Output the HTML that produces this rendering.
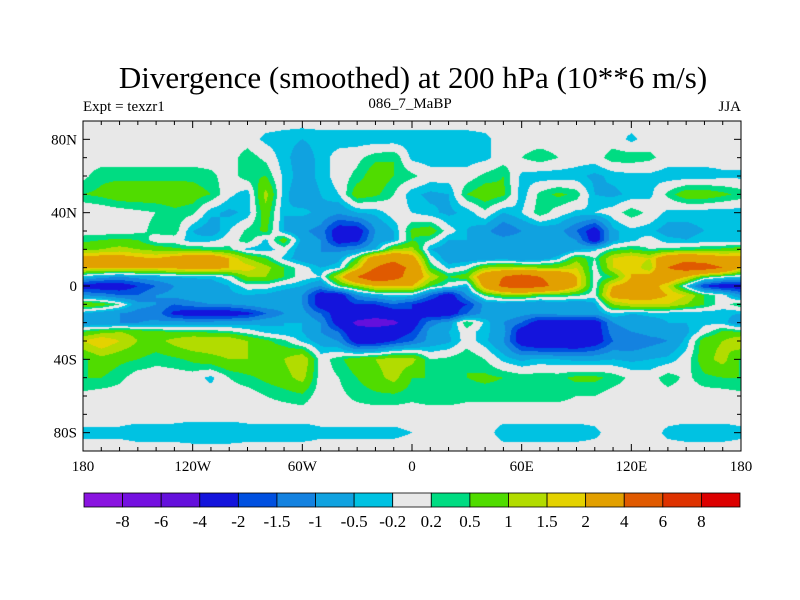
<!DOCTYPE html>
<html><head><meta charset="utf-8"><style>
body{margin:0;background:#fff;width:800px;height:600px;overflow:hidden;position:relative;font-family:"Liberation Serif",serif}
.t{position:absolute;white-space:nowrap;color:#000}
</style></head><body>
<div class="t" style="left:0;width:826px;text-align:center;top:60px;font-size:31px">Divergence (smoothed) at 200 hPa (10**6 m/s)</div>
<div class="t" style="left:83px;top:99px;font-size:15px">Expt = texzr1</div>
<div class="t" style="left:310px;width:200px;text-align:center;top:96px;font-size:15px">086_7_MaBP</div>
<div class="t" style="left:700px;width:41px;text-align:right;top:99px;font-size:15px">JJA</div>
<canvas id="map" width="658" height="330" style="position:absolute;left:83px;top:121px"></canvas>
<svg id="ax" width="800" height="600" style="position:absolute;left:0;top:0"></svg>
<script>
const lons=[-180,-170,-160,-150,-140,-130,-120,-110,-100,-90,-80,-70,-60,-50,-40,-30,-20,-10,0,10,20,30,40,50,60,70,80,90,100,110,120,130,140,150,160,170,180];
const lats=[90,80,70,60,50,40,30,25,20,15,10,5,0,-5,-10,-15,-20,-25,-30,-40,-50,-60,-70,-80,-90];
const row90=[0,0,0,0,0,0,0,0,0,0,0,0,0,0,0,0,0,0,0,0,0,0,0,0,0,0,0,0,0,0,0,0,0,0,0,0,0];
const row80=[0,0,0,0,0,0,0,0,0,0,-0.3,-0.4,-0.5,-0.4,-0.4,-0.4,-0.4,-0.4,-0.4,-0.4,-0.4,-0.4,-0.3,0,0,0,0,0,0,0,-0.3,0,0,0,0,0,0];
const row70=[0,0,0,0,0,0,0,0,0,0.4,0.1,-0.4,-0.7,-0.4,0,0.1,0.4,0.5,-0.3,-0.4,-0.4,-0.4,-0.3,0,0.2,0.4,0.2,0,0,0.4,0.4,0.3,0,0,0,0,0];
const row60=[0.1,0.4,0.4,0.4,0.4,0.4,0.4,0.3,0,0.4,0.5,-0.3,-0.7,-0.4,0,0.3,0.8,0.5,0.3,0,0,0,0.3,0.5,-0.3,-0.4,-0.4,-0.4,-0.6,-0.4,-0.3,-0.3,-0.4,-0.4,-0.4,-0.3,-0.3];
const row50=[0.5,0.6,0.8,0.8,0.8,0.8,0.7,0.5,-0.1,-0.4,1.2,-0.4,-0.8,-0.5,-0.2,0.8,0.6,0.2,-0.4,-0.6,-0.5,0.5,0.8,0.6,-0.4,0.3,0.6,0.4,-0.5,-0.6,-0.4,-0.3,0.3,0.8,0.8,0.6,0.4];
const row40=[-0.2,-0.1,0,0.1,0.2,0.4,0.3,-0.4,-0.6,-0.4,0.8,-0.5,-0.4,-0.6,-0.9,-0.5,-0.4,0,-0.2,-0.4,-0.6,-0.4,0.1,-0.5,-0.2,0.4,0,-0.3,-0.2,0,0.4,0.1,-0.3,-0.4,-0.4,-0.4,-0.4];
const row30=[0,0,0,0.1,0.3,0.4,-0.5,-0.8,-0.2,0.3,0.6,-0.5,-0.9,-1.2,-2.5,-2.5,-1,-0.5,0.6,0.8,0,-0.5,-0.8,-1.5,-1,-0.8,-0.8,-1.5,-2.5,-0.6,-0.3,-0.4,-0.7,-0.6,-0.5,-0.4,-0.3];
const row25=[0.4,0.5,0.6,0.5,0,0,-0.4,-0.3,0,0.4,-0.3,0.8,-0.7,-1,-2.5,-2.2,-0.8,-0.5,0.5,0.2,-0.5,-0.5,-0.6,-0.7,-0.6,-0.5,-0.6,-1,-2.5,-0.6,-0.3,0,-0.4,-0.5,-0.4,-0.4,-0.4];
const row20=[0.8,1,1.2,1,0.8,0.6,0.5,0.4,0.3,-0.3,-0.4,0,-0.8,-1,-1.2,-1,-0.5,1,1.2,-0.5,-0.8,-1,-0.8,-0.6,-0.8,-1,-1,-0.6,-0.3,0.3,0.5,0.2,0.3,0.4,0.5,0.6,0.8];
const row15=[2.5,2.5,2.5,2.2,2,2.5,3,3,2,1,0.5,-0.3,-0.8,-1,-0.6,0.5,3,3.5,2.5,0,-0.8,-0.8,-0.8,-0.6,-1,-0.8,-0.3,0.8,0.2,1.5,2,1.5,3,3.5,3,2.5,2.5];
const row10=[2,2,2,2,2,2.2,2.5,2.5,2,1.8,1.2,0.5,0,-0.5,-0.3,1.5,4,5,3.5,0.5,-0.3,0,1,1.2,1.2,1,1,1.5,0,1.5,2,1,4,5,5,4,2];
const row5=[-0.3,-0.8,-1,-0.8,-0.6,-0.5,-0.4,-0.4,0,1,1,0.5,0,-0.2,1.5,4,6,5,3,1.5,0.5,0.8,3,4,5,4,3.5,2,0,0.5,2,2.5,3,2,0.5,0,-0.3];
const row0=[-2.5,-2.5,-2.5,-2,-1.5,-1,-1,-0.8,-0.5,0,0,-0.3,-0.5,-1,0.3,1,2,2,2,0.5,0,-0.5,2.5,4.5,5,4.5,3.5,2,0,2,2.5,2.5,1.5,-0.2,-2,-2.5,-2.5];
const rowS5=[-1,-1.2,-1.5,-1.5,-1,-0.8,-0.6,-0.6,-0.6,-0.5,-0.6,-0.8,-1,-2.5,-2.5,-1,-0.5,-0.2,-0.3,-1.5,-2.5,-1,0.3,0.8,1,0.5,0.5,0.3,0,2.5,2.5,2.5,2,1.5,0.5,0,-1];
const rowS10=[1,0.8,0.2,-0.8,-1,-1.5,-1.2,-1,-1,-0.8,-0.6,-0.7,-1,-2.5,-2.5,-2,-2,-1.5,-2,-2.5,-2.5,-2,-0.8,-0.8,-1,-1,-0.8,-1,-0.6,1,1.5,1.5,1.5,1,0.5,0,0.5];
const rowS15=[-0.5,-0.8,-1,-1.2,-1.2,-2.2,-2.5,-2.5,-2.5,-2.2,-1.5,-1,-0.8,-1.5,-2.5,-2.5,-3,-2.5,-2,-2.5,-2.5,-1.5,-0.8,-0.6,-0.8,-1,-0.8,-0.8,-0.8,-0.2,-0.5,-0.4,-0.4,-0.5,-0.4,-0.4,-0.5];
const rowS20=[-1,-1,-1,-1,-0.9,-0.8,-0.8,-0.8,-0.7,-0.7,-0.6,-0.5,-0.5,-1,-2.5,-4.5,-5,-4.5,-2.5,-1.2,-0.8,0.5,-0.3,-1,-1.5,-2.5,-2.5,-2.5,-2.5,-1,-0.8,-0.7,-0.5,-0.5,-0.3,-0.3,-1];
const rowS25=[0.5,0.8,1,0.8,0.6,0.5,0.5,0.4,0.3,0,-0.3,-0.5,-0.5,-1,-1.5,-3,-3,-2.5,-2,-0.8,-0.5,0,-0.4,-0.8,-2.5,-3,-3,-3,-2.5,-1.2,-1,-0.8,-0.8,-0.6,0,0.6,0.5];
const rowS30=[1.5,2,1.5,1,0.8,1.2,1.5,1.5,1.5,1,0.6,0.3,-0.3,-0.7,-1,-2.5,-2.5,-2,-1.5,-0.8,-0.6,0,-0.4,-1,-2.5,-3,-3,-3,-2.5,-1.5,-1.5,-1.2,-1,-0.4,0.8,1,1.5];
const rowS40=[0.4,0.8,0.6,0.5,0.3,0.4,0.6,0.8,1,1,0.7,1,1.5,0,0.4,0.8,1,1.3,1.2,0.2,0.3,0.5,0.2,-0.3,-0.6,-0.4,-0.5,-0.6,-0.6,-0.5,-0.6,-0.5,-0.4,0,0.8,1.2,0.4];
const rowS50=[0.5,0.5,0.3,0,0,0,0,-0.3,0.2,0.4,0.6,0.8,1.2,0,0.2,0.5,0.8,1.2,0.5,0.5,0.4,0.5,0.6,0.5,0.4,0.4,0.4,0.6,0.6,0.4,0.1,0,0.4,0.1,0.4,0.5,0.5];
const rowS60=[0.1,0,0,0,0,0,0,0,0,0,0.2,0.3,0.4,0,0.1,0.3,0.4,0.4,0.3,0.4,0.4,0.3,0.3,0.3,0.3,0.3,0.3,0.2,0.2,0,0,0,0,0,0,0,0.1];
const rowS70=[0,0,0,0,0,0,0,0,0,0,0,0,0,0,0,0,0,0,0,0,0,0,0,0,0,0,0,0,0,0,0,0,0,0,0,0,0];
const rowS80=[-0.3,-0.3,-0.3,-0.4,-0.4,-0.4,-0.5,-0.5,-0.5,-0.4,-0.4,-0.4,-0.4,-0.3,-0.3,-0.3,-0.3,-0.3,-0.2,0,0,0,0,-0.4,-0.4,-0.4,-0.4,-0.4,-0.3,0,0,0,-0.3,-0.4,-0.4,-0.4,-0.3];
const rowS90=[0,0,0,0,0,0,0,0,0,0,0,0,0,0,0,0,0,0,0,0,0,0,0,0,0,0,0,0,0,0,0,0,0,0,0,0,0];
const grid=[row90,row80,row70,row60,row50,row40,row30,row25,row20,row15,row10,row5,row0,rowS5,rowS10,rowS15,rowS20,rowS25,rowS30,rowS40,rowS50,rowS60,rowS70,rowS80,rowS90];
const levels=[-8,-6,-4,-2,-1.5,-1,-0.5,-0.2,0.2,0.5,1,1.5,2,4,6,8];
const levelLabels=["-8","-6","-4","-2","-1.5","-1","-0.5","-0.2","0.2","0.5","1","1.5","2","4","6","8"];
const colors=["#8a14e0","#7410e0","#6410dc","#1414dc","#0050e0","#1482e0","#10a2e0","#00c2e2","#e8e8e8","#00dc82","#50dc00","#b2dc00","#e4d200","#e2a000","#e05a00","#de3200","#dc0000"];
const lonTicks=[-180,-120,-60,0,60,120,180];
const lonLabels=["180","120W","60W","0","60E","120E","180"];
const latTicks=[80,40,0,-40,-80];
const latLabels=["80N","40N","0","40S","80S"];

const X0=83,Y0=121,W=658,H=330;
const xOf=lon=>X0+(lon+180)/360*W;
const yOf=lat=>Y0+(90-lat)/180*H;
function rgb(h){return [parseInt(h.substr(1,2),16),parseInt(h.substr(3,2),16),parseInt(h.substr(5,2),16)];}
const rgbs=colors.map(rgb);
function val(lon,lat){
  let fi=(lon-lons[0])/(lons[1]-lons[0]);
  let i=Math.max(0,Math.min(Math.floor(fi),lons.length-2));
  let u=fi-i;
  let j=0;while(j<lats.length-2&&lat<lats[j+1])j++;
  let v=(lats[j]-lat)/(lats[j]-lats[j+1]);
  return (grid[j][i]*(1-u)+grid[j][i+1]*u)*(1-v)+(grid[j+1][i]*(1-u)+grid[j+1][i+1]*u)*v;
}
function cls(z){let k=0;while(k<levels.length&&z>=levels[k])k++;return k;}
const cv=document.getElementById('map'),ctx=cv.getContext('2d');
const img=ctx.createImageData(W,H);
for(let py=0;py<H;py++){const lat=90-(py+0.5)/H*180;
 for(let px=0;px<W;px++){const lon=-180+(px+0.5)/W*360;
  const c=rgbs[cls(val(lon,lat))];const o=(py*W+px)*4;
  img.data[o]=c[0];img.data[o+1]=c[1];img.data[o+2]=c[2];img.data[o+3]=255;}}
ctx.putImageData(img,0,0);

const NS='http://www.w3.org/2000/svg',svg=document.getElementById('ax');
function mk(t,a,p){const e=document.createElementNS(NS,t);for(const k in a)e.setAttribute(k,a[k]);(p||svg).appendChild(e);return e;}
let fr=mk('rect',{x:X0,y:Y0,width:W,height:H,fill:'none',stroke:'#000','stroke-width':1});


for(let lon=-180;lon<=180;lon+=10){const x=xOf(lon),L=(lon%60===0)?7:4;
 let t1=mk('line',{x1:x,y1:Y0+H,x2:x,y2:Y0+H-L,stroke:'#000'});
 
 
 let t2=mk('line',{x1:x,y1:Y0,x2:x,y2:Y0+L,stroke:'#000'});
 
 }
for(let lat=-90;lat<=90;lat+=10){const y=yOf(lat),L=(lat%40===0)?7:4;
 let t1=mk('line',{x1:X0,y1:y,x2:X0+L,y2:y,stroke:'#000'});
 
 
 let t2=mk('line',{x1:X0+W,y1:y,x2:X0+W-L,y2:y,stroke:'#000'});
 
 }
lonTicks.forEach((lon,i)=>{let t=mk('text',{x:xOf(lon),y:471,'text-anchor':'middle','font-size':15,'font-family':'Liberation Serif, serif'});t.textContent=lonLabels[i];
 
 });
latTicks.forEach((lat,i)=>{let t=mk('text',{x:77,y:yOf(lat)+5,'text-anchor':'end','font-size':15,'font-family':'Liberation Serif, serif'});t.textContent=latLabels[i];
 
 });
const CB0=84,CBW=656/colors.length;
colors.forEach((c,i)=>{let r=mk('rect',{x:CB0+i*CBW,y:493,width:CBW,height:14,fill:c,stroke:'#000','stroke-width':0.8});
 
 });
levelLabels.forEach((s,i)=>{let t=mk('text',{x:CB0+(i+1)*CBW,y:527,'text-anchor':'middle','font-size':17,'font-family':'Liberation Serif, serif'});t.textContent=s;
 
 });
</script>
</body></html>
